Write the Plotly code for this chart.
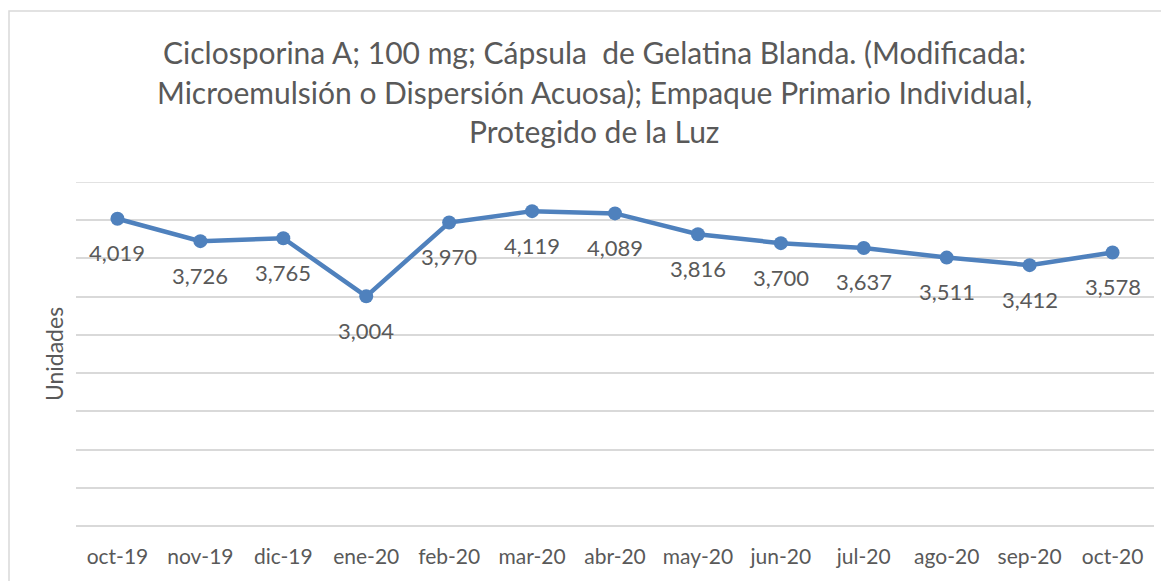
import plotly.graph_objects as go

months = ["oct-19", "nov-19", "dic-19", "ene-20", "feb-20", "mar-20", "abr-20",
          "may-20", "jun-20", "jul-20", "ago-20", "sep-20", "oct-20"]
unidades = [4019, 3726, 3765, 3004, 3970, 4119, 4089, 3816, 3700, 3637, 3511, 3412, 3578]
title_lines = [
    "Ciclosporina A; 100 mg; Cápsula  de Gelatina Blanda. (Modificada:",
    "Microemulsión o Dispersión Acuosa); Empaque Primario Individual,",
    "Protegido de la Luz",
]

FONT = "Lato"
TXT = "#595959"
OFF = 8  # page body margin
W, H = 1169 - OFF, 581 - OFF
L, R, T, B = 76 - OFF, W - (1154 - OFF), 182 - OFF, H - (526 - OFF)
pw, ph = W - L - R, H - T - B

def px_x(px):  # window px -> paper
    return (px - OFF - L) / pw

def px_y(py):
    return (H - B - (py - OFF)) / ph

fig = go.Figure()
fig.add_trace(go.Scatter(
    x=months, y=unidades, mode="lines+markers",
    line=dict(color="#4F81BD", width=4.5),
    marker=dict(color="#4F81BD", size=14),
    hoverinfo="x+y", showlegend=False,
))

annotations = []
for m, v in zip(months, unidades):
    annotations.append(dict(
        x=m, y=v, xref="x", yref="y", text=f"{v:,}", showarrow=False,
        yanchor="middle", xanchor="center", yshift=-34,
        font=dict(family=FONT, size=22, color=TXT),
    ))

for line, py in zip(title_lines, [52, 92, 131]):
    annotations.append(dict(
        x=px_x(594), y=px_y(py), xref="paper", yref="paper",
        text=line, showarrow=False, xanchor="center", yanchor="middle",
        font=dict(family=FONT, size=30, color=TXT),
    ))

fig.update_layout(
    width=W, height=H,
    margin=dict(l=L, r=R, t=T, b=B),
    paper_bgcolor="white", plot_bgcolor="white",
    annotations=annotations,
    shapes=[
        dict(type="rect", xref="paper", yref="paper",
             x0=px_x(9), x1=px_x(1200), y0=px_y(620), y1=px_y(11),
             line=dict(color="#d9d9d9", width=1.5), layer="below"),
        dict(type="line", xref="paper", yref="y", x0=0, x1=1, y0=4500, y1=4500,
             line=dict(color="#d9d9d9", width=1.5), layer="below"),
    ],
    font=dict(family=FONT, color=TXT),
)
fig.update_xaxes(
    type="category", range=[-0.5, len(months) - 0.5],
    showgrid=False, showline=False, zeroline=False,
    ticks="outside", ticklen=12, tickcolor="rgba(0,0,0,0)",
    tickfont=dict(family=FONT, size=21, color=TXT),
)
fig.update_yaxes(
    range=[0, 4500], dtick=500, showticklabels=False,
    showgrid=True, gridcolor="#d9d9d9", gridwidth=1.5,
    zeroline=True, zerolinecolor="#d9d9d9", zerolinewidth=1.5,
    title=dict(text="Unidades", font=dict(family=FONT, size=23, color=TXT), standoff=4),
)

fig.write_html("out.html")
